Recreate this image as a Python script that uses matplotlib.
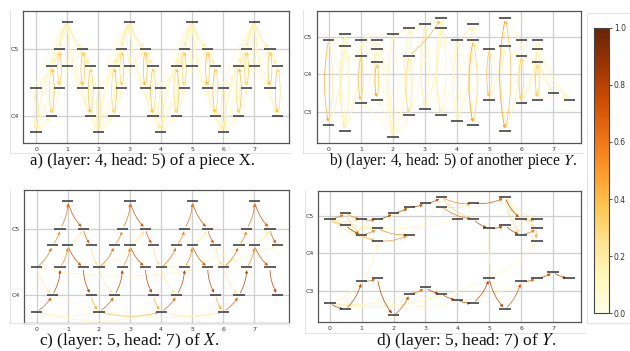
import numpy as np
import matplotlib
matplotlib.use("Agg")
import matplotlib.pyplot as plt
from matplotlib.patches import FancyArrowPatch
from matplotlib.lines import Line2D
from matplotlib import cm
from matplotlib.colors import Normalize

# ---------------- data ----------------
# Piece X : onset (beats) and MIDI pitch of every note
x_times = [0, 0, 0.5, 0.5, 0.75, 0.75, 1, 1, 1.5, 1.5, 1.75, 1.75,
           2, 2, 2.5, 2.5, 2.75, 2.75, 3, 3, 3.5, 3.5, 3.75, 3.75,
           4, 4, 4.5, 4.5, 4.75, 4.75, 5, 5, 5.5, 5.5, 5.75, 5.75,
           6, 6, 6.5, 6.5, 6.75, 6.75, 7, 7, 7.5, 7.5, 7.75, 7.75]
x_pitches = [57, 65, 60, 69, 65, 72, 69, 77, 65, 72, 60, 69,
             57, 65, 60, 69, 65, 72, 69, 77, 65, 72, 60, 69,
             57, 65, 60, 69, 65, 72, 69, 77, 65, 72, 60, 69,
             57, 65, 60, 69, 65, 72, 69, 77, 65, 72, 60, 69]
x_period_starts = [0, 12, 24, 36]          # first note index of each bar pattern

# Piece Y
y_times = [0, 0, 0.5, 0.5, 0.5, 1, 1, 1, 1.5, 1.5, 1.5, 1.5, 2, 2,
           2.5, 2.5, 2.5, 3, 3, 3.5, 3.5, 3.5, 4, 4, 4.5, 4.5, 4.5,
           5, 5, 5.5, 5.5, 5.5, 6, 6, 6, 6.5, 6.5, 6.5, 6.5, 7, 7.5]
y_pitches = [44, 71, 42, 69, 73, 51, 66, 71, 52, 64, 68, 71, 40, 73,
             47, 66, 75, 49, 76, 47, 75, 78, 45, 71, 44, 71, 76,
             52, 68, 42, 69, 78, 51, 66, 71, 52, 64, 68, 71, 54, 52]

# attention edges (source note, target note, weight)
# panel a: layer 4 head 5 on X, per-bar pattern (local note indices, 12/13 = next bar)
a_src = [2, 3, 4, 5, 8, 9, 10, 11, 0, 1, 6, 7,
         7, 7, 7, 7, 7, 7, 7, 7, 7, 7, 7, 7,
         2, 3, 4, 5, 6, 8, 9, 10, 11,
         3, 5, 9, 11, 2, 8, 3, 6, 4, 6, 1, 1, 0]
a_dst = [3, 2, 5, 4, 9, 8, 11, 10, 1, 0, 7, 6,
         0, 1, 2, 3, 4, 5, 8, 9, 10, 11, 12, 13,
         0, 0, 0, 0, 0, 12, 12, 12, 12,
         5, 3, 11, 9, 4, 10, 6, 9, 6, 8, 3, 5, 2]
a_w = [0.40, 0.30, 0.35, 0.30, 0.35, 0.40, 0.30, 0.40, 0.25, 0.20, 0.15, 0.15,
       0.12, 0.10, 0.12, 0.15, 0.12, 0.20, 0.12, 0.20, 0.12, 0.15, 0.08, 0.08,
       0.10, 0.10, 0.12, 0.10, 0.10, 0.10, 0.10, 0.12, 0.10,
       0.20, 0.15, 0.20, 0.15, 0.15, 0.15, 0.15, 0.15, 0.10, 0.10, 0.12, 0.10, 0.12]

# panel c: layer 5 head 7 on X, per-bar pattern
c_src = [0, 2, 4, 6, 8, 10, 1, 3, 5, 7, 9, 11, 1, 6]
c_dst = [2, 4, 6, 8, 10, 12, 3, 5, 7, 9, 11, 13, 2, 9]
c_w = [0.65, 0.78, 0.55, 0.72, 0.78, 0.45, 0.60, 0.55, 0.62, 0.72, 0.68, 0.25, 0.20, 0.20]
# panel c: long-range links on X (global note indices)
c_long_src = [0, 12, 24, 0, 1, 13, 25, 2]
c_long_dst = [12, 24, 36, 24, 47, 21, 45, 36]
c_long_w = [0.15, 0.40, 0.20, 0.12, 0.15, 0.12, 0.12, 0.10]

# panel b: layer 4 head 5 on Y
b_src = [1, 0, 4, 2, 3, 2, 6, 5, 7, 9, 8, 10, 11, 13, 12, 16, 14, 15, 14, 15,
         18, 17, 21, 19, 20, 23, 22, 25, 24, 26, 24, 28, 27, 31, 29, 30, 33, 32, 34,
         36, 35, 37, 38, 39,
         12, 12, 12, 12, 12, 12, 12, 12, 12, 0, 0, 1, 1, 2, 2, 2,
         5, 8, 8, 5, 6, 13, 16, 18, 13, 14, 17, 19, 17,
         22, 22, 23, 22, 24, 19, 27, 27, 29, 29, 29, 31, 30,
         32, 32, 35, 35, 36, 37, 38, 37, 36, 35, 32, 33]
b_dst = [0, 1, 2, 4, 2, 3, 5, 6, 5, 8, 9, 8, 8, 12, 13, 14, 16, 14, 15, 21,
         17, 18, 19, 21, 19, 22, 23, 24, 25, 24, 26, 27, 28, 29, 31, 29, 32, 33, 32,
         35, 36, 35, 35, 40,
         7, 9, 10, 11, 14, 15, 16, 5, 8, 3, 4, 3, 4, 1, 7, 6,
         7, 11, 10, 10, 11, 16, 18, 21, 7, 18, 21, 16, 20,
         25, 26, 26, 20, 23, 23, 30, 31, 28, 33, 34, 34, 33,
         36, 37, 38, 37, 39, 39, 40, 40, 40, 39, 38, 36]
b_w = [0.45, 0.20, 0.20, 0.15, 0.18, 0.12, 0.40, 0.30, 0.15, 0.45, 0.35, 0.18, 0.12, 0.15, 0.12,
       0.20, 0.15, 0.30, 0.20, 0.40,
       0.20, 0.15, 0.18, 0.15, 0.15, 0.15, 0.12, 0.50, 0.30, 0.18, 0.12, 0.40, 0.25,
       0.50, 0.40, 0.18, 0.35, 0.30, 0.15, 0.35, 0.30, 0.20, 0.12, 0.12,
       0.10, 0.10, 0.10, 0.10, 0.12, 0.10, 0.10, 0.10, 0.10, 0.10, 0.12, 0.12, 0.15, 0.10, 0.10, 0.10,
       0.10, 0.12, 0.10, 0.10, 0.10, 0.15, 0.12, 0.12, 0.10, 0.10, 0.12, 0.10, 0.10,
       0.12, 0.12, 0.15, 0.10, 0.10, 0.10, 0.10, 0.15, 0.12, 0.12, 0.10, 0.12, 0.10,
       0.10, 0.12, 0.12, 0.10, 0.12, 0.12, 0.12, 0.10, 0.10, 0.12, 0.10, 0.10]

# panel d: layer 5 head 7 on Y
d_src = [1, 4, 7, 11, 13, 16, 18, 21, 26, 31, 34,
         1, 3, 6, 10, 9, 20, 25, 28, 30, 33, 37, 4, 6,
         0, 2, 5, 8, 12, 14, 17, 19, 22, 24, 27, 29, 32, 35, 39,
         0, 0, 0, 0, 0, 1, 1, 1, 1, 4, 3, 5, 28, 31, 31, 31, 27, 11, 15, 20, 21, 31]
d_dst = [4, 7, 11, 13, 16, 18, 21, 26, 31, 34, 38,
         3, 6, 10, 15, 15, 25, 28, 30, 33, 37, 36, 6, 9,
         2, 5, 8, 12, 14, 17, 19, 22, 24, 27, 29, 32, 35, 39, 40,
         17, 19, 27, 39, 5, 23, 7, 10, 9, 10, 9, 9, 29, 38, 37, 36, 36, 16, 21, 26, 25, 33]
d_w = [0.60, 0.50, 0.65, 0.75, 0.75, 0.75, 0.75, 0.55, 0.70, 0.75, 0.50,
       0.40, 0.78, 0.55, 0.55, 0.50, 0.60, 0.78, 0.75, 0.78, 0.60, 0.45, 0.30, 0.40,
       0.78, 0.78, 0.65, 0.82, 0.70, 0.65, 0.75, 0.75, 0.75, 0.75, 0.78, 0.70, 0.65, 0.75, 0.78,
       0.15, 0.12, 0.12, 0.12, 0.15, 0.12, 0.20, 0.20, 0.20, 0.15, 0.30, 0.15, 0.10, 0.20, 0.20,
       0.15, 0.12, 0.12, 0.12, 0.25, 0.30, 0.25]

captions = ["a) (layer: 4, head: 5) of a piece X.",
            "b) (layer: 4, head: 5) of another piece $Y$.",
            "c) (layer: 5, head: 7) of $X$.",
            "d) (layer: 5, head: 7) of $Y$."]

# ---------------- drawing ----------------
W, H = 630, 351
fig = plt.figure(figsize=(W / 100, H / 100), dpi=100)
plt.rcParams["mathtext.fontset"] = "stix"
cmap = plt.get_cmap("YlOrBr")


def px_rect(l, t, r, b):
    return [l / W, 1 - b / H, (r - l) / W, (b - t) / H]


def expand(src, dst, w, starts, n):
    S, D, Wt = [], [], []
    for s0 in starts:
        for s, d, ww in zip(src, dst, w):
            if s0 + s < n and s0 + d < n:
                S.append(s0 + s); D.append(s0 + d); Wt.append(ww)
    return S, D, Wt


def draw_panel(ax, times, pitches, src, dst, w, yticks, ylabels, ylim, xlim, rad):
    times = np.asarray(times, float)
    pitches = np.asarray(pitches, float)
    ax.set_xlim(*xlim)
    ax.set_ylim(*ylim)
    ax.set_xticks(range(8))
    ax.set_yticks(yticks)
    ax.set_yticklabels(ylabels)
    ax.grid(True, color="#cfcfcf", lw=0.9, zorder=0)
    ax.set_axisbelow(True)
    ax.tick_params(length=0, labelsize=4.5, pad=3, colors="#333333")
    for sp in ax.spines.values():
        sp.set_color("#555555")
        sp.set_linewidth(0.9)
    order = np.argsort(w)
    for i in order:
        s, d = src[i], dst[i]
        arr = FancyArrowPatch((times[s], pitches[s]), (times[d], pitches[d]),
                              connectionstyle=f"arc3,rad={rad}",
                              arrowstyle="-|>", mutation_scale=4,
                              color=cmap(w[i]), lw=0.5,
                              shrinkA=2, shrinkB=2, zorder=2)
        ax.add_patch(arr)
    ax.hlines(pitches, times - 0.18, times + 0.18, color="#333333", lw=1.1, zorder=3)


nX = len(x_times)
aS, aD, aW = expand(a_src, a_dst, a_w, x_period_starts, nX)
cS, cD, cW = expand(c_src, c_dst, c_w, x_period_starts, nX)
cS += c_long_src; cD += c_long_dst; cW += c_long_w

axa = fig.add_axes(px_rect(23.3, 10.7, 289.3, 143.3))
draw_panel(axa, x_times, x_pitches, aS, aD, aW, [60, 72], ["C4", "C5"],
           (55, 79), (-0.41, 8.12), 0.1)
axb = fig.add_axes(px_rect(316.5, 11, 581, 143.3))
draw_panel(axb, y_times, y_pitches, b_src, b_dst, b_w, [48, 60, 72], ["C3", "C4", "C5"],
           (38, 80.3), (-0.38, 7.86), 0.1)
axc = fig.add_axes(px_rect(24, 190, 289.3, 322.7))
draw_panel(axc, x_times, x_pitches, cS, cD, cW, [60, 72], ["C4", "C5"],
           (55, 79), (-0.41, 8.12), 0.15)
axd = fig.add_axes(px_rect(317.7, 191, 581, 321.7))
draw_panel(axd, y_times, y_pitches, d_src, d_dst, d_w, [48, 60, 72], ["C3", "C4", "C5"],
           (38, 80), (-0.38, 7.88), 0.15)

# colorbar
axcb = fig.add_axes(px_rect(594, 27.7, 609, 313.3))
sm = cm.ScalarMappable(norm=Normalize(0, 1), cmap=cmap)
cb = fig.colorbar(sm, cax=axcb, ticks=[0, 0.2, 0.4, 0.6, 0.8, 1.0])
cb.ax.set_yticklabels(["0.0", "0.2", "0.4", "0.6", "0.8", "1.0"])
cb.ax.tick_params(labelsize=5.5, length=2, width=0.6, pad=1.5, colors="#333333")
cb.outline.set_edgecolor("#444444")
cb.outline.set_linewidth(0.8)

# faint sub-figure frames
frame_lines = [((10, 10), (10, 153)), ((10, 290), (153, 153)),
               ((303, 303), (10, 153)), ((303, 582), (153, 153)),
               ((10, 10), (190, 323)), ((10, 290), (323, 323)),
               ((305, 305), (190, 333)), ((305, 585), (333, 333)),
               ((587, 587), (15, 323)), ((587, 630), (13, 13)), ((587, 630), (323, 323))]
for (xs, ys) in frame_lines:
    fig.add_artist(Line2D([x / W for x in xs], [1 - y / H for y in ys],
                          color="#e4e4e4", lw=0.8))

# captions
cap_pos = [(143, 161), (453, 161), (129, 341), (466, 341)]
cap_size = [12, 11.2, 12.5, 12.5]
for (cx, cy), fs, txt in zip(cap_pos, cap_size, captions):
    fig.text(cx / W, 1 - cy / H, txt, ha="center", va="center",
             family="Liberation Serif", fontsize=fs, color="#111111")

fig.savefig("out.png", dpi=100)
